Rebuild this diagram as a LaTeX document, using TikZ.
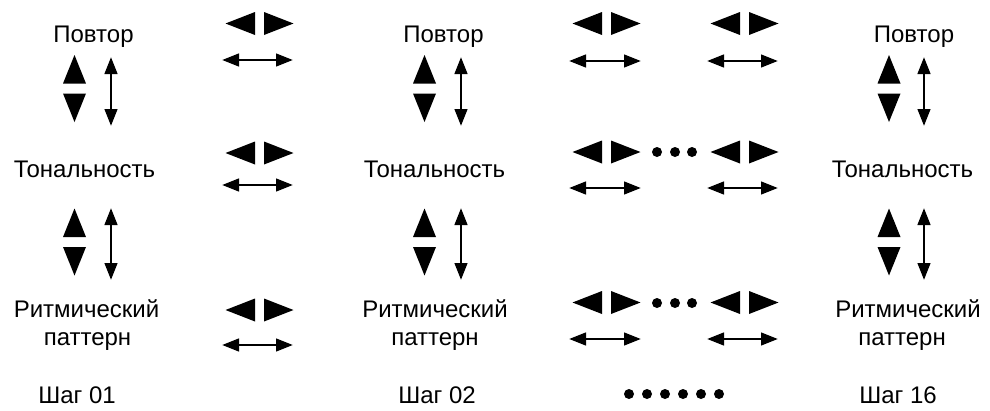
\documentclass[tikz,border=0pt]{standalone}
\usepackage{fontspec}
\setmainfont{Liberation Sans}
\usetikzlibrary{arrows.meta}
\tikzset{
  lbl/.style={font=\fontsize{24}{28}\selectfont, anchor=base, inner sep=0pt},
  dbl/.style={line width=2.8pt, {Triangle[length=17pt,width=12.5pt]}-{Triangle[length=17pt,width=12.5pt]}},
  blob/.style={circle, fill=black, inner sep=0pt, minimum size=10pt},
  htri/.pic={
    \fill (-34,0) -- (-4.5,-11.5) -- (-4.5,11.5) -- cycle;
    \fill (34,0) -- (4.5,-11.5) -- (4.5,11.5) -- cycle;
  },
  vtri/.pic={
    \fill (0,-33.5) -- (-11.5,-5) -- (11.5,-5) -- cycle;
    \fill (0,33.5) -- (-11.5,5) -- (11.5,5) -- cycle;
  }
}
\begin{document}
\begin{tikzpicture}[x=1pt,y=-1pt]
\useasboundingbox (0,0) rectangle (990,410);

% labels
\node[lbl] (pov1) at (93.5,42) {Повтор};
\node[lbl] (ton1) at (84.5,177) {Тональность};
\node[lbl] (rit1) at (86.5,317) {Ритмический};
\node[lbl] (pat1) at (87.5,345) {паттерн};
\node[lbl] (sh1)  at (77,403) {Шаг 01};

\node[lbl] (pov2) at (443.5,42) {Повтор};
\node[lbl] (ton2) at (434.5,177) {Тональность};
\node[lbl] (rit2) at (435,317) {Ритмический};
\node[lbl] (pat2) at (435,345) {паттерн};
\node[lbl] (sh2)  at (437,403) {Шаг 02};

\node[lbl] (pov3) at (914,42) {Повтор};
\node[lbl] (ton3) at (902.5,177) {Тональность};
\node[lbl] (rit3) at (908,317) {Ритмический};
\node[lbl] (pat3) at (902,345) {паттерн};
\node[lbl] (sh3)  at (898,403) {Шаг 16};

% vertical triangle pairs
\foreach \cx in {74.5,424.5,889}{
  \pic at (\cx,88.5) {vtri};
  \pic at (\cx,242) {vtri};
}
% horizontal triangle pairs
\foreach \cx/\ya/\yb/\yc in {259.5/23.5/153/310, 606.5/23.5/152/302.5, 744.5/23.5/152/302.5}{
  \pic at (\cx,\ya) {htri};
  \pic at (\cx,\yb) {htri};
  \pic at (\cx,\yc) {htri};
}

% vertical thin arrows
\foreach \n/\x in {a/111,b/461,c/924}{
  \coordinate (vt\n1) at (\x,57);  \coordinate (vb\n1) at (\x,126);
  \coordinate (vt\n2) at (\x,208); \coordinate (vb\n2) at (\x,280);
  \draw[dbl] (vt\n1) -- (vb\n1);
  \draw[dbl] (vt\n2) -- (vb\n2);
}
% horizontal thin arrows
\foreach \n/\xa/\xb/\ya/\yb/\yc in {a/222/293/60/185/345, b/569/641/61/188/339, c/707/778/61/188/339}{
  \coordinate (hl\n1) at (\xa,\ya); \coordinate (hr\n1) at (\xb,\ya);
  \coordinate (hl\n2) at (\xa,\yb); \coordinate (hr\n2) at (\xb,\yb);
  \coordinate (hl\n3) at (\xa,\yc); \coordinate (hr\n3) at (\xb,\yc);
  \draw[dbl] (hl\n1) -- (hr\n1);
  \draw[dbl] (hl\n2) -- (hr\n2);
  \draw[dbl] (hl\n3) -- (hr\n3);
}

% dots
\foreach \x [count=\i] in {657,675,692}{
  \node[blob] (da\i) at (\x,152) {};
  \node[blob] (db\i) at (\x,303) {};
}
\foreach \x [count=\i] in {629,647,665,683,701,719}{
  \node[blob] (dc\i) at (\x,394) {};
}
\end{tikzpicture}
\end{document}
